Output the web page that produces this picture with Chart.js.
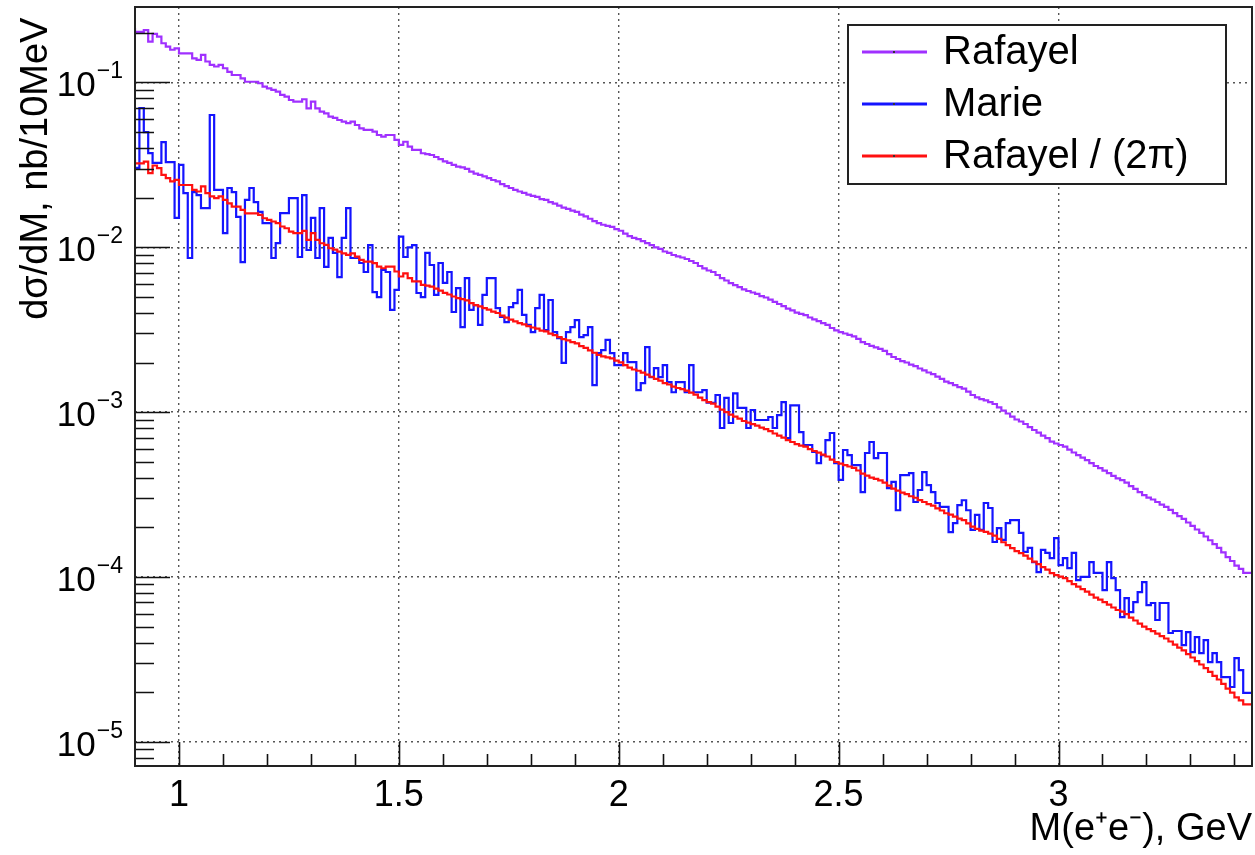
<!DOCTYPE html>
<html>
<head>
<meta charset="utf-8">
<script src="https://cdn.jsdelivr.net/npm/chart.js@4.4.0/dist/chart.umd.min.js"></script>
<style>
  html, body { margin: 0; padding: 0; background: #fff; }
  #wrap { width: 1255px; height: 855px; }
</style>
</head>
<body>
<div id="wrap"><canvas id="chart" width="1255" height="855"></canvas></div>
<script>
// 10 MeV bins starting at 0.9 GeV
const binStart = 0.9;
const binWidth = 0.01;

// d(sigma)/dM, nb/10MeV, one value per bin
const rafayel = [
  0.214, 0.203, 0.203, 0.208, 0.177, 0.197, 0.190, 0.173, 0.165, 0.158,
  0.161, 0.150, 0.150, 0.150, 0.140, 0.137, 0.147, 0.134, 0.128, 0.125,
  0.128, 0.122, 0.116, 0.111, 0.111, 0.106, 0.101, 0.101, 0.101, 0.0989,
  0.0943, 0.0922, 0.0901, 0.0880, 0.0840, 0.0820, 0.0783, 0.0765, 0.0765, 0.0791,
  0.0697, 0.0765, 0.0697, 0.0665, 0.0650, 0.0620, 0.0609, 0.0592, 0.0578, 0.0566,
  0.0578, 0.0552, 0.0527, 0.0515, 0.0515, 0.0503, 0.0480, 0.0469, 0.0480, 0.0480,
  0.0448, 0.0418, 0.0437, 0.0408, 0.0390, 0.0390, 0.0372, 0.0368, 0.0363, 0.0353,
  0.0343, 0.0332, 0.0325, 0.0316, 0.0309, 0.0305, 0.0299, 0.0288, 0.0280, 0.0275,
  0.0269, 0.0263, 0.0256, 0.0251, 0.0242, 0.0235, 0.0229, 0.0223, 0.0218, 0.0214,
  0.0209, 0.0205, 0.0202, 0.0196, 0.0194, 0.0188, 0.0184, 0.0179, 0.0174, 0.0171,
  0.0167, 0.0164, 0.0158, 0.0154, 0.0149, 0.0144, 0.0140, 0.0137, 0.0135, 0.0133,
  0.0129, 0.0126, 0.0121, 0.0117, 0.0114, 0.0112, 0.0109, 0.0106, 0.0103, 0.0100,
  0.00977, 0.00943, 0.00924, 0.00898, 0.00880, 0.00867, 0.00849, 0.00826, 0.00803, 0.00770,
  0.00744, 0.00723, 0.00708, 0.00679, 0.00651, 0.00629, 0.00607, 0.00590, 0.00574, 0.00555,
  0.00543, 0.00532, 0.00521, 0.00506, 0.00496, 0.00482, 0.00466, 0.00453, 0.00440, 0.00425,
  0.00414, 0.00402, 0.00394, 0.00388, 0.00375, 0.00365, 0.00357, 0.00347, 0.00338, 0.00324,
  0.00313, 0.00306, 0.00300, 0.00294, 0.00288, 0.00278, 0.00266, 0.00259, 0.00252, 0.00247,
  0.00242, 0.00235, 0.00225, 0.00216, 0.00210, 0.00204, 0.00200, 0.00194, 0.00190, 0.00184,
  0.00179, 0.00174, 0.00170, 0.00164, 0.00159, 0.00153, 0.00150, 0.00146, 0.00142, 0.00139,
  0.00133, 0.00127, 0.00123, 0.00120, 0.00118, 0.00115, 0.00112, 0.00107, 0.00102, 0.000981,
  0.000940, 0.000902, 0.000877, 0.000847, 0.000812, 0.000779, 0.000752, 0.000721, 0.000696, 0.000663,
  0.000645, 0.000632, 0.000618, 0.000593, 0.000569, 0.000549, 0.000530, 0.000512, 0.000491, 0.000471,
  0.000458, 0.000442, 0.000427, 0.000410, 0.000396, 0.000387, 0.000374, 0.000356, 0.000342, 0.000327,
  0.000314, 0.000303, 0.000295, 0.000285, 0.000275, 0.000266, 0.000255, 0.000244, 0.000234, 0.000225,
  0.000214, 0.000204, 0.000194, 0.000185, 0.000176, 0.000167, 0.000158, 0.000150, 0.000141, 0.000132,
  0.000125, 0.000117, 0.000112, 0.000106
];

const marie = [
  0.0303, 0.0303, 0.0700, 0.0500, 0.0373, 0.0325, 0.0325, 0.0435, 0.0329, 0.0329,
  0.0151, 0.0316, 0.0213, 0.00861, 0.0216, 0.0207, 0.0173, 0.0173, 0.0635, 0.0223,
  0.0223, 0.0122, 0.0229, 0.0216, 0.0153, 0.00814, 0.0194, 0.0229, 0.0188, 0.0164,
  0.0140, 0.0140, 0.00861, 0.0106, 0.0161, 0.0161, 0.0199, 0.0199, 0.00873, 0.0207,
  0.00963, 0.0151, 0.00861, 0.0173, 0.00760, 0.0114, 0.00924, 0.00660, 0.0114, 0.0173,
  0.00861, 0.00861, 0.00803, 0.00708, 0.0103, 0.00535, 0.00499, 0.00728, 0.00708, 0.00417,
  0.00551, 0.0116, 0.00873, 0.0100, 0.0103, 0.00528, 0.00499, 0.00924, 0.00781, 0.00514,
  0.00803, 0.00608, 0.00708, 0.00405, 0.00566, 0.00328, 0.00651, 0.00417, 0.00446, 0.00338,
  0.00514, 0.00651, 0.00651, 0.00428, 0.00378, 0.00352, 0.00434, 0.00459, 0.00551, 0.00389,
  0.00338, 0.00306, 0.00428, 0.00514, 0.00315, 0.00479, 0.00306, 0.00281, 0.00199, 0.00306,
  0.00328, 0.00362, 0.00285, 0.00293, 0.00328, 0.00146, 0.00228, 0.00238, 0.00274, 0.00228,
  0.00193, 0.00193, 0.00228, 0.00201, 0.00201, 0.00136, 0.00150, 0.00248, 0.00163, 0.00185,
  0.00163, 0.00193, 0.00152, 0.00132, 0.00152, 0.00152, 0.00132, 0.00193, 0.00132, 0.00132,
  0.00136, 0.00114, 0.00114, 0.00127, 0.000801, 0.00122, 0.000859, 0.00130, 0.00106, 0.00106,
  0.000801, 0.00103, 0.000896, 0.000896, 0.000896, 0.000934, 0.000801, 0.000960, 0.00115, 0.000696,
  0.00110, 0.00110, 0.000757, 0.000632, 0.000632, 0.000573, 0.000491, 0.000549, 0.000677, 0.000747,
  0.000491, 0.000388, 0.000589, 0.000549, 0.000477, 0.000477, 0.000327, 0.000565, 0.000659, 0.000526,
  0.000565, 0.000565, 0.000346, 0.000377, 0.000254, 0.000415, 0.000415, 0.000427, 0.000285, 0.000337,
  0.000433, 0.000361, 0.000327, 0.000281, 0.000266, 0.000266, 0.000187, 0.000212, 0.000273, 0.000292,
  0.000254, 0.000193, 0.000238, 0.000193, 0.000281, 0.000262, 0.000163, 0.000198, 0.000168, 0.000212,
  0.000221, 0.000221, 0.000185, 0.000142, 0.000150, 0.000123, 0.000107, 0.000146, 0.000140, 0.000130,
  0.000172, 0.000118, 0.000130, 0.000113, 0.000140, 9.57e-5, 1.00e-4, 1.00e-4, 1.23e-4, 1.06e-4,
  1.06e-4, 8.33e-5, 1.23e-4, 9.85e-5, 8.33e-5, 5.71e-5, 7.45e-5, 6.12e-5, 7.04e-5, 8.10e-5,
  9.31e-5, 6.75e-5, 6.95e-5, 5.48e-5, 6.95e-5, 6.95e-5, 4.57e-5, 4.70e-5, 4.70e-5, 3.86e-5,
  4.63e-5, 3.50e-5, 4.32e-5, 3.45e-5, 4.14e-5, 3.04e-5, 3.45e-5, 3.04e-5, 2.47e-5, 2.47e-5,
  2.15e-5, 3.22e-5, 2.72e-5, 1.98e-5
];

// third curve is Rafayel scaled by 1/(2 pi), as the legend says
const rafayelOver2Pi = rafayel.map((v) => v / (2 * Math.PI));

const seriesNames = ['Rafayel', 'Marie', 'Rafayel / (2\u03C0)'];
const seriesColors = ['#a030ff', '#1414ff', '#ff1010'];

const xTickValues = [1, 1.5, 2, 2.5, 3];
const xTickLabels = ['1', '1.5', '2', '2.5', '3'];
const yTickValues = [1e-5, 1e-4, 1e-3, 1e-2, 1e-1];
const yTickExponents = ['\u22125', '\u22124', '\u22123', '\u22122', '\u22121'];

const FONT = "'Liberation Sans', Arial, Helvetica, sans-serif";

// Histogram outline: one point per bin low edge + closing edge
const toSteps = (values) => {
  const pts = values.map((v, i) => ({ x: binStart + i * binWidth, y: v }));
  pts.push({ x: binStart + values.length * binWidth, y: values[values.length - 1] });
  return pts;
};

// ROOT-like frame, inner tick marks, 10^n labels and boxed legend
const rootFrame = {
  id: 'rootFrame',
  afterDraw(chart) {
    const { ctx, chartArea: a, scales } = chart;
    const x = scales.x;
    const y = scales.y;
    ctx.save();

    // tick marks inside the frame
    ctx.strokeStyle = '#111';
    ctx.lineWidth = 1.6;
    ctx.beginPath();
    for (let k = 10; k <= 34; k++) {
      const px = Math.round(x.getPixelForValue(k / 10)) + 0.5;
      const len = k % 5 === 0 ? 24 : 12;
      ctx.moveTo(px, a.bottom);
      ctx.lineTo(px, a.bottom - len);
    }
    for (let e = -6; e <= -1; e++) {
      for (let m = 1; m <= 9; m++) {
        const v = m * Math.pow(10, e);
        if (v < y.min || v > y.max) continue;
        const py = Math.round(y.getPixelForValue(v)) + 0.5;
        const len = m === 1 ? 35 : 19;
        ctx.moveTo(a.left, py);
        ctx.lineTo(a.left + len, py);
      }
    }
    ctx.stroke();

    // frame
    ctx.lineWidth = 2;
    ctx.strokeStyle = '#222';
    ctx.strokeRect(a.left, a.top, a.right - a.left, a.bottom - a.top);

    // y labels as 10 with a raised exponent
    ctx.fillStyle = '#000';
    ctx.textAlign = 'right';
    ctx.textBaseline = 'alphabetic';
    yTickValues.forEach((v, i) => {
      const py = y.getPixelForValue(v);
      const right = a.left - 12;
      ctx.font = `23px ${FONT}`;
      const expW = ctx.measureText(yTickExponents[i]).width;
      ctx.fillText(yTickExponents[i], right, py - 4);
      ctx.font = `35px ${FONT}`;
      ctx.fillText('10', right - expW - 1, py + 14);
    });

    // legend
    const box = { x: 848, y: 25, w: 378, h: 159 };
    ctx.fillStyle = '#fff';
    ctx.fillRect(box.x, box.y, box.w, box.h);
    ctx.strokeStyle = '#222';
    ctx.lineWidth = 2;
    ctx.strokeRect(box.x, box.y, box.w, box.h);

    ctx.font = `40px ${FONT}`;
    ctx.textBaseline = 'middle';
    ctx.textAlign = 'left';
    chart.data.datasets.forEach((ds, i) => {
      const rowY = 52 + i * 52;
      ctx.strokeStyle = ds.borderColor;
      ctx.lineWidth = 3;
      ctx.beginPath();
      ctx.moveTo(862, rowY);
      ctx.lineTo(927, rowY);
      ctx.stroke();
      ctx.fillStyle = '#333';
      ctx.fillRect(893, rowY - 1, 2, 2);
      ctx.fillStyle = '#000';
      ctx.fillText(ds.label, 943, rowY + 1);
    });

    ctx.restore();
  },
};

const makeDataset = (i, values, order) => ({
  label: seriesNames[i],
  data: toSteps(values),
  borderColor: seriesColors[i],
  backgroundColor: seriesColors[i],
  borderWidth: 2.2,
  stepped: 'after',
  pointRadius: 0,
  fill: false,
  order,
});

new Chart(document.getElementById('chart'), {
  type: 'line',
  data: {
    datasets: [
      makeDataset(0, rafayel, 2),
      makeDataset(1, marie, 1),
      makeDataset(2, rafayelOver2Pi, 0),
    ],
  },
  options: {
    responsive: false,
    animation: false,
    devicePixelRatio: 1,
    layout: { padding: { top: 7, right: 3, left: 0, bottom: 0 } },
    plugins: {
      legend: { display: false },
      tooltip: { enabled: false },
    },
    scales: {
      x: {
        type: 'linear',
        min: 0.9,
        max: 3.44,
        afterBuildTicks: (s) => {
          s.ticks = xTickValues.map((v) => ({ value: v }));
        },
        afterFit: (s) => {
          s.height = 89;
          s.paddingLeft = 0;
          s.paddingRight = 0;
        },
        ticks: {
          autoSkip: false,
          maxRotation: 0,
          padding: 8,
          color: '#000',
          font: { family: FONT, size: 36 },
          callback: (v, i) => xTickLabels[i],
        },
        grid: { color: '#555', lineWidth: 1.4, drawTicks: false },
        border: { display: false, dash: [2, 4] },
        title: {
          display: true,
          text: 'M(e\u207Ae\u207B), GeV',
          align: 'end',
          color: '#000',
          font: { family: FONT, size: 38 },
          padding: { top: 0, bottom: 3 },
        },
      },
      y: {
        type: 'logarithmic',
        min: 7.13e-6,
        max: 0.287,
        afterBuildTicks: (s) => {
          s.ticks = yTickValues.map((v) => ({ value: v }));
        },
        afterFit: (s) => {
          s.width = 135;
          s.paddingTop = 0;
          s.paddingBottom = 0;
        },
        ticks: { display: false },
        grid: { color: '#555', lineWidth: 1.4, drawTicks: false },
        border: { display: false, dash: [2, 4] },
        title: {
          display: true,
          text: 'd\u03C3/dM, nb/10MeV ',
          align: 'end',
          color: '#000',
          font: { family: FONT, size: 38 },
          padding: { top: 14, bottom: 0 },
        },
      },
    },
  },
  plugins: [rootFrame],
});
</script>
</body>
</html>
